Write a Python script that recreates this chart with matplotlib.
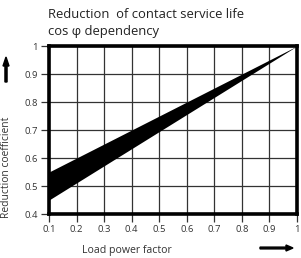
import matplotlib
matplotlib.use("Agg")
import matplotlib.pyplot as plt
import numpy as np

x_vals = [0.1, 1.0]
upper = [0.55, 1.0]
lower = [0.45, 1.0]
xticks = [0.1, 0.2, 0.3, 0.4, 0.5, 0.6, 0.7, 0.8, 0.9, 1.0]
xticklabels = ["0.1", "0.2", "0.3", "0.4", "0.5", "0.6", "0.7", "0.8", "0.9", "1"]
yticks = [0.4, 0.5, 0.6, 0.7, 0.8, 0.9, 1.0]
yticklabels = ["0.4", "0.5", "0.6", "0.7", "0.8", "0.9", "1"]

plt.rcParams['font.family'] = ['Open Sans', 'DejaVu Sans']

fig = plt.figure(figsize=(3.01, 2.58), dpi=100)
ax = fig.add_axes([49/301, 44/258, 248/301, 168/258])
ax.fill_between(x_vals, lower, upper, color='black', lw=0, zorder=3)
ax.set_xlim(0.1, 1.0)
ax.set_ylim(0.4, 1.0)
ax.set_xticks(xticks)
ax.set_xticklabels(xticklabels)
ax.set_yticks(yticks)
ax.set_yticklabels(yticklabels)
ax.grid(True, color='#333333', lw=0.9)
for s in ax.spines.values():
    s.set_linewidth(2.6)
    s.set_color('black')
ax.tick_params(axis='both', length=6, width=0.9, color='#333333',
               labelsize=6.8, labelcolor='#333333', pad=2)
ax.set_axisbelow(True)

fig.text(48/301, 1 - 15/258, "Reduction  of contact service life", fontsize=9.4,
         ha='left', va='center', color='#222222')
fig.text(48/301, 1 - 31/258, "cos \u03c6 dependency", fontsize=9.4,
         ha='left', va='center', color='#222222')
fig.text(7/301, 1 - 167/258, "Reduction coefficient", fontsize=7.4,
         rotation=90, ha='center', va='center', color='#333333')
fig.text(127/301, 1 - 251/258, "Load power factor", fontsize=7.6,
         ha='center', va='center', color='#333333')

fig.patches.append(matplotlib.patches.FancyArrow(
    6/301, 1 - 82/258, 0, 25/258, width=1.8/258, head_width=6/301,
    head_length=9/258, transform=fig.transFigure, color='black', length_includes_head=True))
fig.patches.append(matplotlib.patches.FancyArrow(
    260/301, 1 - 248/258, 33/301, 0, width=1.8/258, head_width=6/258,
    head_length=7/301, transform=fig.transFigure, color='black', length_includes_head=True))

fig.savefig("out.png", dpi=100)
